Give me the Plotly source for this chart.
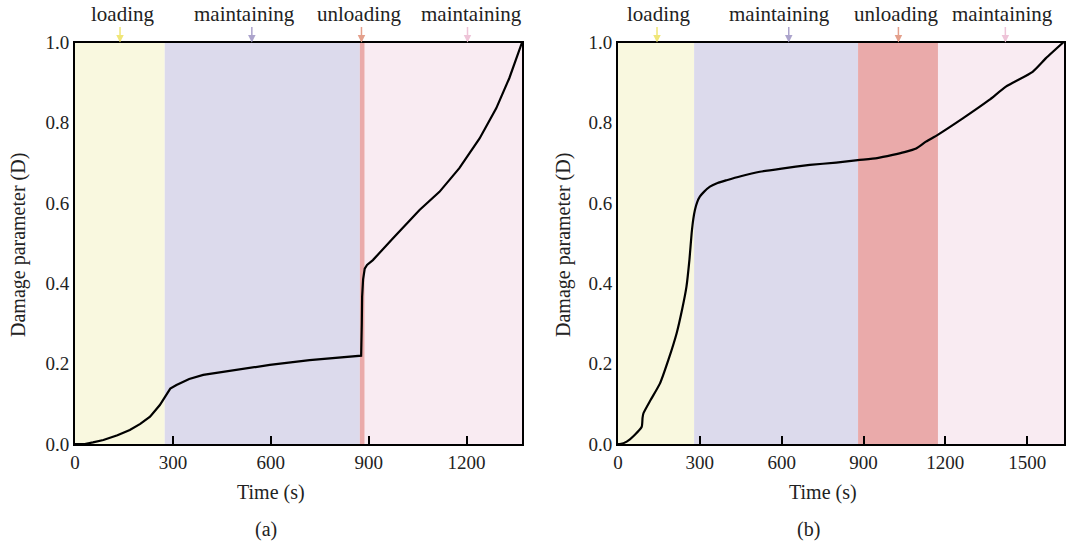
import plotly.graph_objects as go

# ---------------- data ----------------
a_time = [0, 30, 55, 87, 130, 168, 200, 230, 260, 272, 281, 292, 311, 350, 393, 450, 495, 597,
          719, 826, 872, 877, 879, 880, 883, 888, 895, 913, 974, 1056, 1117, 1178, 1240, 1291,
          1331, 1370]
a_damage = [0, 0.0, 0.004, 0.01, 0.022, 0.035, 0.05, 0.068, 0.097, 0.112, 0.126, 0.138, 0.147,
            0.162, 0.172, 0.179, 0.184, 0.197, 0.209, 0.216, 0.218, 0.22, 0.30, 0.367, 0.41,
            0.437, 0.446, 0.458, 0.512, 0.583, 0.628, 0.687, 0.761, 0.836, 0.911, 1.0]

b_time = [0, 7, 32, 60, 87, 90, 93, 120, 154, 185, 215, 235, 251, 262, 270, 276, 282, 290, 300,
          315, 337, 365, 398, 450, 520, 600, 703, 800, 879, 950, 1007, 1050, 1093, 1129, 1172,
          1264, 1361, 1422, 1520, 1569, 1632]
b_damage = [0, 0, 0.006, 0.022, 0.043, 0.065, 0.076, 0.11, 0.151, 0.21, 0.276, 0.335, 0.392,
            0.46, 0.525, 0.56, 0.583, 0.602, 0.616, 0.628, 0.641, 0.650, 0.657, 0.667, 0.678,
            0.686, 0.695, 0.701, 0.707, 0.712, 0.720, 0.727, 0.736, 0.753, 0.770, 0.811, 0.857,
            0.890, 0.927, 0.961, 1.0]

phase_labels = ["loading", "maintaining", "unloading", "maintaining"]
a_phase_bounds = [0, 275, 873, 888, 1370]
b_phase_bounds = [0, 279, 880, 1173, 1635]
a_arrow_t = [138, 542, 878, 1203]
b_arrow_t = [143, 626, 1028, 1420]

a_xticks = [0, 300, 600, 900, 1200]
b_xticks = [0, 300, 600, 900, 1200, 1500]
y_ticks = [0.0, 0.2, 0.4, 0.6, 0.8, 1.0]

# ---------------- style ----------------
W, H = 1066, 548
FONT = "Liberation Serif"
phase_fill = ["rgb(249,248,223)", "rgb(220,218,236)", "rgb(234,170,170)", "rgb(249,235,242)"]
arrow_col = ["rgb(240,230,120)", "rgb(172,164,204)", "rgb(228,160,140)", "rgb(238,196,216)"]
label_shift = {"a": [2, -7, -2, 4], "b": [1, -9, -2, -3]}

def px(x):
    return x / W

def py(y):
    return 1 - y / H

fig = go.Figure()
fig.add_trace(go.Scatter(x=a_time, y=a_damage, mode="lines", xaxis="x", yaxis="y",
                         line=dict(color="black", width=2.2), showlegend=False))
fig.add_trace(go.Scatter(x=b_time, y=b_damage, mode="lines", xaxis="x2", yaxis="y2",
                         line=dict(color="black", width=2.2, shape="spline", smoothing=0.5),
                         showlegend=False))

shapes = []
annots = []
for key, xr, yr, bounds, arrows in [("a", "x", "y", a_phase_bounds, a_arrow_t),
                                     ("b", "x2", "y2", b_phase_bounds, b_arrow_t)]:
    for i in range(4):
        shapes.append(dict(type="rect", xref=xr, yref=yr + " domain",
                           x0=bounds[i], x1=bounds[i + 1], y0=0, y1=1,
                           fillcolor=phase_fill[i], line=dict(width=0), layer="below"))
        annots.append(dict(x=arrows[i], y=1.0, xref=xr, yref=yr, text="",
                           showarrow=True, ax=0, ay=-17, axref="pixel", ayref="pixel",
                           arrowhead=2, arrowsize=1, arrowwidth=1.5,
                           arrowcolor=arrow_col[i], standoff=0))
        annots.append(dict(x=arrows[i], y=py(14), xref=xr, yref="paper",
                           text=phase_labels[i], showarrow=False, xshift=label_shift[key][i],
                           xanchor="center", yanchor="middle",
                           font=dict(family=FONT, size=21, color="#222")))

# axis titles and captions
for xc, yc, txt, ang in [(18, 245, "Damage parameter (D)", -90),
                         (563, 245, "Damage parameter (D)", -90),
                         (271, 492, "Time (s)", 0),
                         (823, 492, "Time (s)", 0),
                         (266, 529, "(a)", 0),
                         (808, 529, "(b)", 0)]:
    annots.append(dict(x=px(xc), y=py(yc), xref="paper", yref="paper", text=txt,
                       showarrow=False, textangle=ang, xanchor="center", yanchor="middle",
                       font=dict(family=FONT, size=20, color="#222")))

axis_common = dict(showline=True, linecolor="black", linewidth=2, mirror=True,
                   showgrid=False, zeroline=False,
                   tickfont=dict(family=FONT, size=19, color="#222"))

fig.update_layout(
    width=W, height=H,
    margin=dict(l=0, r=0, t=0, b=0, autoexpand=False),
    paper_bgcolor="white", plot_bgcolor="white",
    xaxis=dict(domain=[px(75), px(522)], range=[0, 1370], tickvals=a_xticks,
               ticks="inside", ticklen=8, tickwidth=1.5, tickcolor="black",
               anchor="y", **axis_common),
    yaxis=dict(domain=[py(444), py(42.5)], range=[0, 1], tickvals=y_ticks,
               tickformat=".1f", ticks="", anchor="x", **axis_common),
    xaxis2=dict(domain=[px(618), px(1064)], range=[0, 1635], tickvals=b_xticks,
                ticks="inside", ticklen=8, tickwidth=1.5, tickcolor="black",
                anchor="y2", **axis_common),
    yaxis2=dict(domain=[py(444), py(42.5)], range=[0, 1], tickvals=y_ticks,
                tickformat=".1f", ticks="", anchor="x2", **axis_common),
    shapes=shapes,
    annotations=annots,
)

fig.write_html("out.html", config={"displayModeBar": False},
               post_script="document.body.style.margin='0';document.body.style.overflow='hidden';")
